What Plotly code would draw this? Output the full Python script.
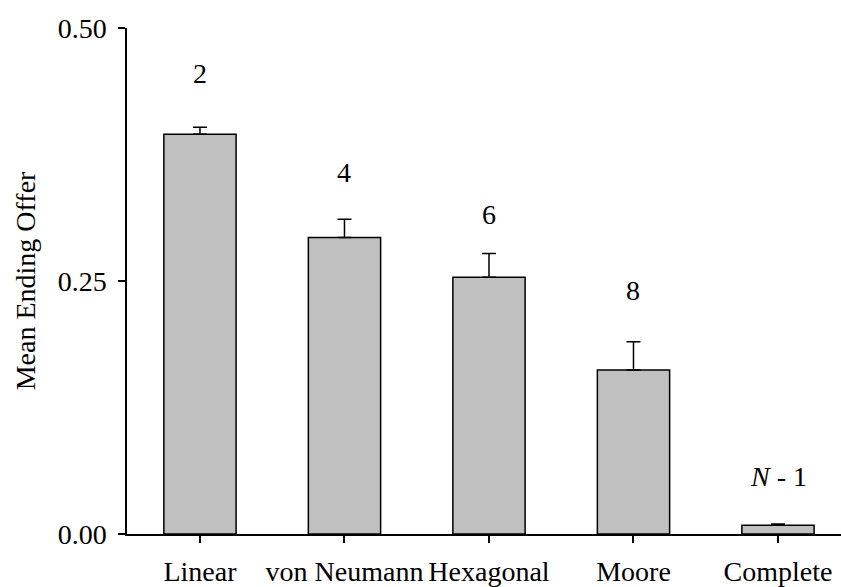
import plotly.graph_objects as go

categories = ["Linear", "von Neumann", "Hexagonal", "Moore", "Complete"]
means = [0.395, 0.293, 0.2536, 0.162, 0.0086]
errors = [0.007, 0.018, 0.0235, 0.028, 0.0012]
group_labels = ["2", "4", "6", "8", "<i>N</i> - 1"]
label_y = [0.4555, 0.357, 0.316, 0.241, 0.057]
y_ticks = [0.0, 0.25, 0.5]

FONT = "Liberation Serif, Times New Roman, serif"
FS = 28
x_idx = list(range(len(categories)))

fig = go.Figure()
fig.add_trace(go.Bar(
    x=x_idx, y=means, width=0.5,
    marker=dict(color="#c0c0c0", line=dict(color="black", width=1.5)),
    error_y=dict(type="data", array=errors, arrayminus=[0] * len(errors),
                 symmetric=False, color="black", thickness=1.5, width=7),
    showlegend=False,
))

for i, (lab, yy) in enumerate(zip(group_labels, label_y)):
    fig.add_annotation(x=i, y=yy, text=lab, showarrow=False,
                       xref="x", yref="y", yanchor="middle",
                       font=dict(family=FONT, size=FS, color="black"))

fig.update_layout(
    width=841, height=587,
    margin=dict(l=127, r=0, t=28, b=53, autoexpand=False),
    paper_bgcolor="white", plot_bgcolor="white",
    font=dict(family=FONT, size=FS, color="black"),
    bargap=0.5,
)
fig.update_xaxes(
    range=[-0.505, 4.436], tickmode="array", tickvals=x_idx, ticktext=categories,
    showline=True, linecolor="black", linewidth=1.5, showgrid=False, zeroline=False,
    ticks="outside", ticklen=7, tickwidth=1.5, tickcolor="black",
    ticklabelstandoff=5,
)
fig.update_yaxes(
    range=[0, 0.5], tickmode="array", tickvals=y_ticks,
    ticktext=[f"{v:.2f}" for v in y_ticks],
    showline=True, linecolor="black", linewidth=1.5, showgrid=False, zeroline=False,
    ticks="outside", ticklen=7, tickwidth=1.5, tickcolor="black",
    ticklabelstandoff=6,
    title=dict(text="Mean Ending Offer", font=dict(family=FONT, size=FS), standoff=14),
)

fig.write_html("out.html", config={"displayModeBar": False},
               post_script="document.body.style.margin='0';document.body.style.padding='0';")
